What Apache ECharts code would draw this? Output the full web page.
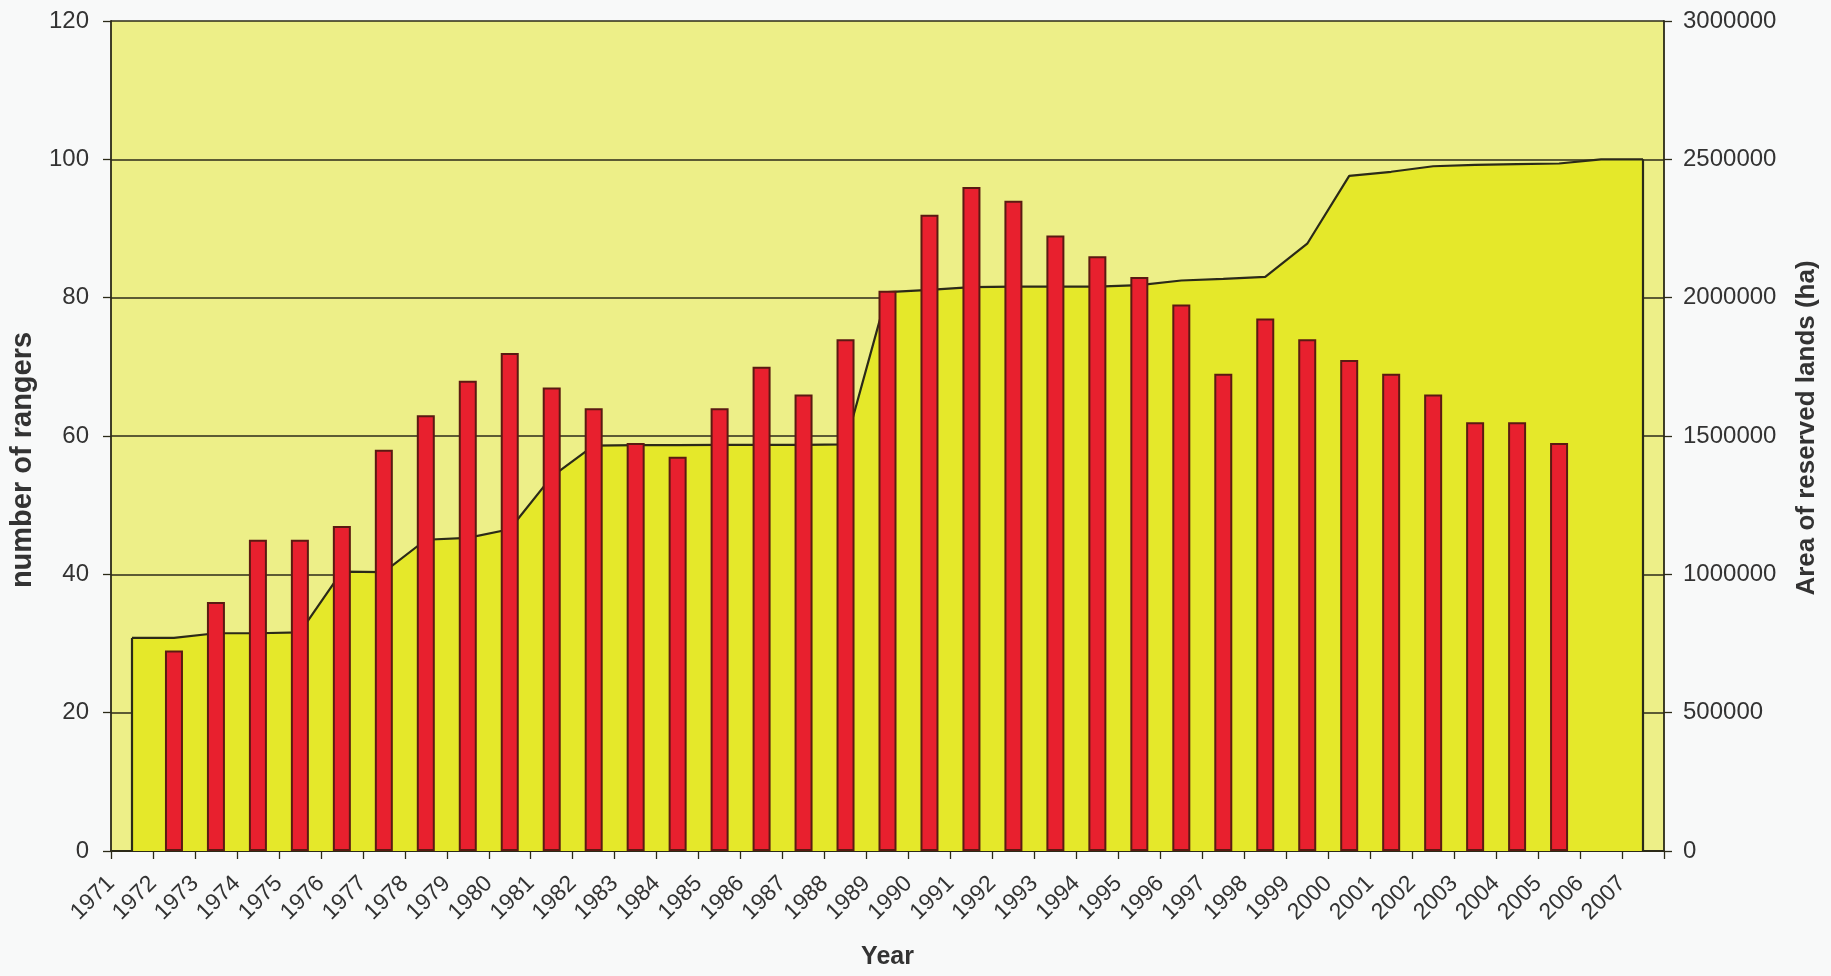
<!DOCTYPE html>
<html>
<head>
<meta charset="utf-8">
<script src="https://cdn.jsdelivr.net/npm/echarts@6/dist/echarts.min.js"></script>
<style>
  html, body { margin: 0; padding: 0; background: #F8F9F9; }
  #chart { width: 1831px; height: 976px; }
</style>
</head>
<body>
<div id="chart"></div>
<script>
// Categories (years) and tick labels
var years = ['1971','1972','1973','1974','1975','1976','1977','1978','1979','1980',
             '1981','1982','1983','1984','1985','1986','1987','1988','1989','1990',
             '1991','1992','1993','1994','1995','1996','1997','1998','1999','2000',
             '2001','2002','2003','2004','2005','2006','2007'];
var tickLabels = years.concat(['']);

// Number of rangers (bars), one per category slot
var rangers = [null, 29, 36, 45, 45, 47, 58, 63, 68, 72,
               67, 64, 59, 57, 64, 70, 66, 74, 81, 92,
               96, 94, 89, 86, 83, 79, 69, 77, 74, 71,
               69, 66, 62, 62, 59, null, null];

// Area of reserved lands (ha)
var reservedArea = [770000, 770000, 787000, 787000, 790000, 1010000, 1008000, 1125000, 1132000, 1163000,
                    1353000, 1465000, 1467000, 1467000, 1468000, 1468000, 1468000, 1470000, 2020000, 2028000,
                    2038000, 2040000, 2040000, 2040000, 2045000, 2062000, 2068000, 2075000, 2195000, 2440000,
                    2455000, 2475000, 2480000, 2483000, 2485000, 2500000, 2500000];

var leftTicks = { min: 0, max: 120, interval: 20 };
var rightTicks = { min: 0, max: 3000000, interval: 500000 };

var dark = '#2b2a18';
var font = 'Liberation Sans, Arial, sans-serif';

var chart = echarts.init(document.getElementById('chart'), null, { renderer: 'canvas' });
var last = years.length - 1;

chart.setOption({
  backgroundColor: '#F8F9F9',
  animation: false,
  grid: {
    left: 111, right: 167, top: 21, bottom: 125,
    show: true, backgroundColor: '#EDEF88', borderWidth: 0
  },
  xAxis: [
    {
      type: 'category',
      data: tickLabels,
      boundaryGap: false,
      position: 'bottom',
      name: 'Year',
      nameLocation: 'middle',
      nameGap: 94,
      nameTextStyle: { fontFamily: font, fontWeight: 'bold', fontSize: 25, color: '#333' },
      axisLine: { show: true, lineStyle: { color: dark, width: 1.8 } },
      axisTick: { show: true, interval: 0, length: 8, lineStyle: { color: dark, width: 1.3 } },
      axisLabel: { interval: 0, rotate: 45, margin: 29, padding: [14, 0, 0, 0], fontFamily: font, fontSize: 23, color: '#333' },
      splitLine: { show: false }
    },
    {
      type: 'category',
      data: years,
      boundaryGap: true,
      position: 'bottom',
      show: false
    }
  ],
  yAxis: [
    {
      type: 'value',
      min: leftTicks.min, max: leftTicks.max, interval: leftTicks.interval,
      position: 'left',
      name: 'number of rangers',
      nameLocation: 'middle',
      nameGap: 74,
      nameTextStyle: { fontFamily: font, fontWeight: 'bold', fontSize: 29, color: '#333', padding: [0, 48, 0, 0] },
      axisLine: { show: true, lineStyle: { color: dark, width: 1.8 } },
      axisTick: { show: true, length: 8, lineStyle: { color: dark, width: 1.3 } },
      axisLabel: { margin: 22, fontFamily: font, fontSize: 24, color: '#333' },
      splitLine: { show: true, lineStyle: { color: dark, width: 1.6 } }
    },
    {
      type: 'value',
      min: rightTicks.min, max: rightTicks.max, interval: rightTicks.interval,
      position: 'right',
      name: 'Area of reserved lands (ha)',
      nameLocation: 'middle',
      nameGap: 130,
      nameTextStyle: { fontFamily: font, fontWeight: 'bold', fontSize: 26, color: '#333', padding: [0, 0, 0, 16] },
      axisLine: { show: true, lineStyle: { color: dark, width: 1.8 } },
      axisTick: { show: true, length: 8, lineStyle: { color: dark, width: 1.3 } },
      axisLabel: {
        margin: 19, fontFamily: font, fontSize: 24, color: '#333',
        formatter: function (v) { return String(v); }
      },
      splitLine: { show: false }
    }
  ],
  series: [
    {
      name: 'Area of reserved lands (ha)',
      type: 'line',
      xAxisIndex: 1,
      yAxisIndex: 1,
      data: reservedArea,
      symbol: 'none',
      lineStyle: { color: dark, width: 2.2 },
      areaStyle: { color: '#E5E82A', opacity: 1 },
      z: 2,
      markLine: {
        silent: true,
        symbol: 'none',
        label: { show: false },
        lineStyle: { color: dark, width: 2.2, type: 'solid' },
        data: [
          [{ coord: [0, 0] }, { coord: [0, reservedArea[0]] }],
          [{ coord: [last, 0] }, { coord: [last, reservedArea[last]] }]
        ]
      }
    },
    {
      name: 'number of rangers',
      type: 'bar',
      xAxisIndex: 1,
      yAxisIndex: 0,
      data: rangers,
      barWidth: 18,
      itemStyle: { color: '#E8202E', borderColor: '#5a1a12', borderWidth: 2 },
      z: 3
    }
  ]
});
</script>
</body>
</html>
